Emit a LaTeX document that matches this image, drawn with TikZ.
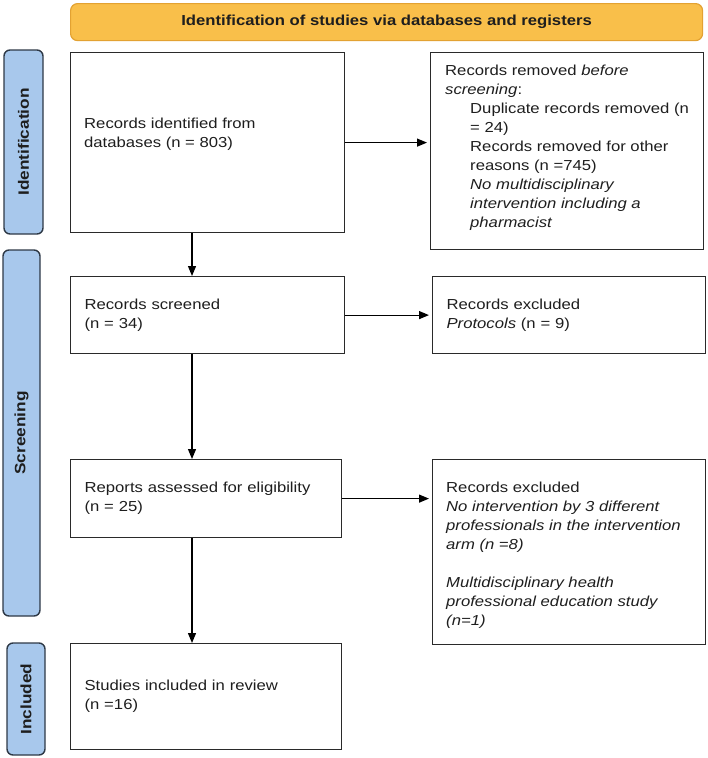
\documentclass[tikz,border=0pt]{standalone}
\usepackage{fontspec}
\setmainfont{Liberation Sans}[FakeStretch=1.15]
\usetikzlibrary{arrows.meta}
\definecolor{hdrfill}{HTML}{F9BF4A}
\definecolor{hdrline}{HTML}{E3A232}
\definecolor{barfill}{HTML}{A8C8EC}
\definecolor{barline}{HTML}{2E3946}
\definecolor{boxline}{HTML}{2A2A2A}
\definecolor{txt}{HTML}{1E1E1E}
\tikzset{
  every node/.style={font=\fontsize{14.5}{19}\selectfont, text=txt},
  stagebox/.style={draw=boxline, line width=1.2pt, rectangle, anchor=north west,
    inner xsep=14pt, align=left},
  txtblock/.style={anchor=north west, inner sep=0pt, align=left},
  sidebar/.style={draw=barline, fill=barfill, line width=1.4pt, rounded corners=6pt},
  sidelabel/.style={rotate=90, font=\fontsize{15}{17}\selectfont\bfseries},
  arr/.style={-{Triangle[length=10pt,width=8pt]}, line width=1.2pt, black, shorten >=3pt},
}
\begin{document}
\begin{tikzpicture}[x=1pt,y=-1pt]
\useasboundingbox (0,0) rectangle (708,758);
% header
\node[draw=hdrline, fill=hdrfill, line width=1.2pt, rounded corners=7pt, anchor=north west,
  minimum width=632pt, minimum height=37pt, font=\fontsize{14.5}{17}\selectfont\bfseries]
  (hdr) at (70,3) {Identification of studies via databases and registers};
% side bars
\draw[sidebar] (4,50) rectangle (43,234);
\node[sidelabel] (lid) at (23.5,142) {Identification};
\draw[sidebar] (3,250) rectangle (40,616);
\node[sidelabel] (lscr) at (21.5,433) {Screening};
\draw[sidebar] (7,643) rectangle (45,755);
\node[sidelabel] (linc) at (26,699) {Included};
% boxes
\node[stagebox, minimum width=274pt, minimum height=180pt] (b1) at (70,52) {};
\node[txtblock] (t1) at (84,118) {Records identified from\\databases (n = 803)};
\node[stagebox, minimum width=273pt, minimum height=197pt] (b2) at (430,52) {};
\node[txtblock] (t2) at (445,65) {Records removed \textit{before}\\
  \textit{screening}:\\
  \hspace*{25pt}Duplicate records removed (n\\
  \hspace*{25pt}= 24)\\
  \hspace*{25pt}Records removed for other\\
  \hspace*{25pt}reasons (n =745)\\
  \hspace*{25pt}\textit{No multidisciplinary}\\
  \hspace*{25pt}\textit{intervention including a}\\
  \hspace*{25pt}\textit{pharmacist}};
\node[stagebox, minimum width=274pt, minimum height=77pt, text width=246pt] (b3) at (70,276)
  {Records screened\\(n = 34)};
\node[stagebox, minimum width=273pt, minimum height=77pt, text width=245pt] (b4) at (432,276)
  {Records excluded\\\textit{Protocols} (n = 9)};
\node[stagebox, minimum width=271pt, minimum height=78pt, text width=243pt] (b5) at (70,459)
  {Reports assessed for eligibility\\(n = 25)};
\node[stagebox, minimum width=273pt, minimum height=185pt] (b6) at (432,459) {};
\node[txtblock] (t6) at (446,482) {Records excluded\\
  \textit{No intervention by 3 different}\\
  \textit{professionals in the intervention}\\
  \textit{arm (n =8)}\\[19pt]
  \textit{Multidisciplinary health}\\
  \textit{professional education study}\\
  \textit{(n=1)}};
\node[stagebox, minimum width=271pt, minimum height=106pt, text width=243pt] (b7) at (70,643)
  {Studies included in review\\(n =16)};
% connectors
\coordinate (col) at (192,0);
\draw[arr] (b1.east) -- (b1.east -| b2.west);
\draw[arr] (b3.east) -- (b3.east -| b4.west);
\draw[arr] (b5.east) -- (b5.east -| b6.west);
\draw[arr, shorten >=0pt] (b1.south -| col) -- (b3.north -| col);
\draw[arr, shorten >=0pt] (b3.south -| col) -- (b5.north -| col);
\draw[arr, shorten >=0pt] (b5.south -| col) -- (b7.north -| col);
\end{tikzpicture}
\end{document}
